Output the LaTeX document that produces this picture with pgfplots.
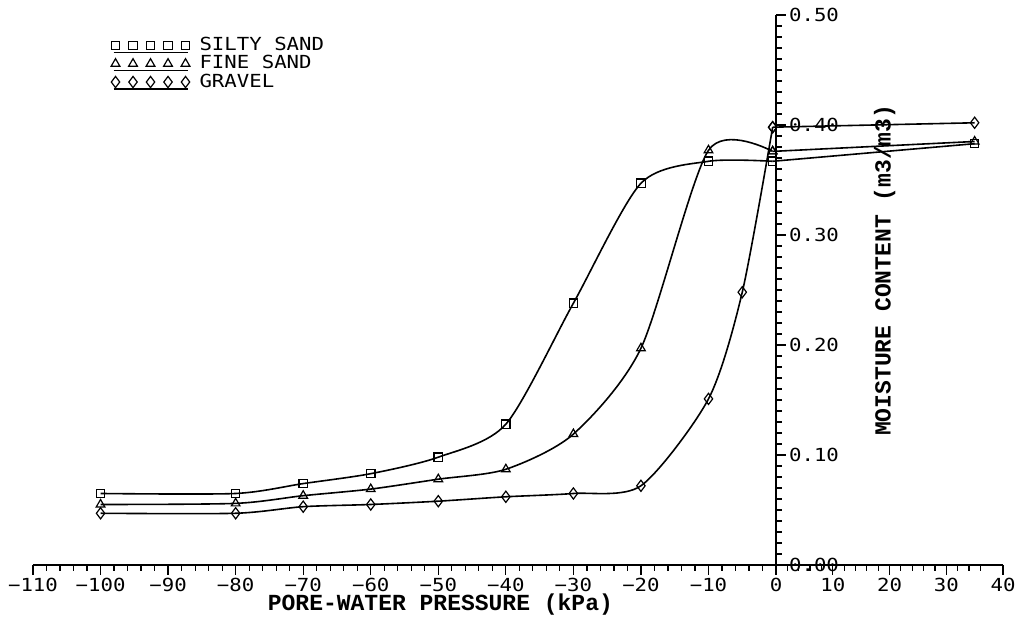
\documentclass[border=0pt]{standalone}
\usepackage{fontspec}
\usepackage{pgfplots}
\pgfplotsset{compat=1.18}
\newfontfamily\plotfont[FakeStretch=1.15]{DejaVu Sans Mono}
\newfontfamily\titlefont{Liberation Mono}

\begin{document}
\begin{tikzpicture}
\begin{axis}[
    scale only axis,
    width=485pt, height=275pt,
    xmin=-110, xmax=33.6,
    ymin=0, ymax=0.5,
    axis lines=middle,
    axis line style={-, line width=0.9pt},
    hide obscured x ticks=false,
    hide obscured y ticks=false,
    clip=false,
    % positive pressures are drawn on a shorter scale, as in the original plot
    x filter/.expression={x>0 ? 0.84*x : x},
    xtick={-110,-100,-90,-80,-70,-60,-50,-40,-30,-20,-10,0,8.4,16.8,25.2,33.6},
    xticklabels={−110,−100,−90,−80,−70,−60,−50,−40,−30,−20,−10,0,10,20,30,40},
    minor xtick={-108,-106,...,-2,1.68,3.36,...,31.92},
    ytick={0,0.1,0.2,0.3,0.4,0.5},
    yticklabels={0.00,0.10,0.20,0.30,0.40,0.50},
    minor ytick={0,0.01,...,0.5},
    tick align=center,
    major tick length=5pt,
    minor tick length=3pt,
    tick style={black, line width=0.6pt},
    every major x tick/.append style={yshift=-2.5pt},
    every minor x tick/.append style={yshift=-1.5pt},
    every major y tick/.append style={xshift=2.5pt},
    every minor y tick/.append style={xshift=1.5pt},
    yticklabel pos=right,
    ticklabel style={font=\plotfont\fontsize{9}{9}\selectfont},
    xticklabel style={anchor=north, yshift=-0.5pt},
    yticklabel style={anchor=west, xshift=5.5pt},
    every axis x label/.style={at={(rel axis cs:0.42,0)}, anchor=center, yshift=-20pt},
    every axis y label/.style={at={(rel axis cs:0.878,0.536)}, anchor=center, rotate=90},
    xlabel={PORE-WATER PRESSURE (kPa)},
    ylabel={MOISTURE CONTENT (m3/m3)},
    label style={font=\titlefont\bfseries\fontsize{11.5}{11.5}\selectfont},
    legend style={at={(rel axis cs:0.074,0.975)}, anchor=north west, draw=none, fill=none,
        font=\plotfont\fontsize{9}{9}\selectfont, row sep=-3pt},
    legend cell align=left,
    legend image code/.code={
        \path[draw=none] (0pt,-3.5pt) -- (41pt,-3.5pt);
        \draw[#1, mark=none] (0pt,-3.5pt) -- (37pt,-3.5pt);
        \foreach \mx in {1pt,9.75pt,18.5pt,27.25pt,36pt}
            {\draw[#1] plot coordinates {(\mx,0pt)};}
    },
    every axis plot/.append style={black, line width=0.8pt, mark options={solid, line width=0.6pt}},
]
% smooth part of each curve, then the straight run to +35 kPa
\addplot[smooth, tension=0.45, mark=square, mark size=2.1pt] coordinates {
    (-100,0.065) (-80,0.065) (-70,0.074) (-60,0.083) (-50,0.098) (-40,0.128)
    (-30,0.238) (-20,0.347) (-10,0.367) (-0.5,0.367)};
\addplot[smooth, tension=0.45, mark=triangle, mark size=2.5pt] coordinates {
    (-100,0.055) (-80,0.056) (-70,0.063) (-60,0.069) (-50,0.078) (-40,0.087)
    (-30,0.119) (-20,0.197) (-10,0.377) (-0.5,0.376)};
\addplot[smooth, tension=0.45, mark=diamond, mark size=2.8pt] coordinates {
    (-100,0.047) (-80,0.047) (-70,0.053) (-60,0.055) (-50,0.058) (-40,0.062)
    (-30,0.065) (-20,0.072) (-10,0.151) (-5,0.248) (-0.5,0.398)};
\addplot[forget plot, mark=square, mark size=2.1pt] coordinates {(-0.5,0.367) (35,0.383)};
\addplot[forget plot, mark=triangle, mark size=2.5pt] coordinates {(-0.5,0.376) (35,0.385)};
\addplot[forget plot, mark=diamond, mark size=2.8pt] coordinates {(-0.5,0.398) (35,0.402)};
\legend{SILTY SAND, FINE SAND, GRAVEL}
\path (rel axis cs:0,0) ++(-16.5pt,-31pt) coordinate (bl);
\path (rel axis cs:1,1) ++(9pt,7.5pt) coordinate (tr);
\end{axis}
\pgfresetboundingbox
\path (bl) rectangle (tr);
\end{tikzpicture}
\end{document}
